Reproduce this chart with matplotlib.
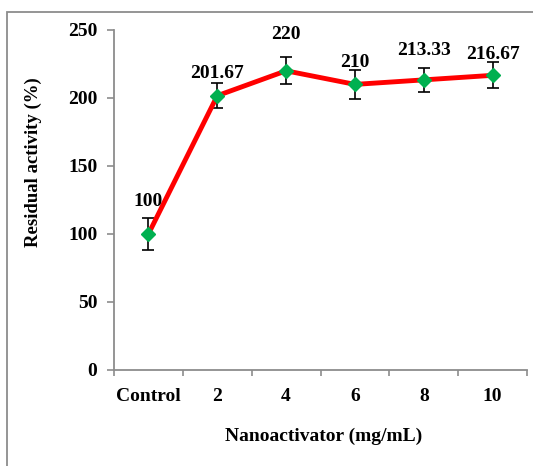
import numpy as np
import matplotlib.pyplot as plt
from matplotlib.patches import Rectangle

categories = ['Control', '2', '4', '6', '8', '10']
activity = [100, 201.67, 220, 210, 213.33, 216.67]
errors = [12, 9, 10, 10.5, 9, 9.5]

# vertical gap (points) between each marker and its value label
label_gap = [17, 10, 20, 10, 15, 9]

plt.rcParams['font.family'] = 'Liberation Serif'
plt.rcParams['font.weight'] = 'bold'

fig = plt.figure(figsize=(5.33, 4.66), dpi=100)
ax = fig.add_axes([114/533, 96/466, 413/533, 340/466])

# outer frame (only top and left edges visible)
fig.patches.append(Rectangle((7/533, -0.1), 1.2, 1.1 - 12/466, transform=fig.transFigure,
                             fill=False, edgecolor='#8c8c8c', linewidth=1.3))

x = np.arange(len(categories))
ax.errorbar(x, activity, yerr=errors, fmt='none', ecolor='black', elinewidth=1.2,
            capsize=4.3, capthick=1.2, zorder=2)
ax.plot(x, activity, color='#ff0000', linewidth=3.5, zorder=3)
ax.plot(x, activity, linestyle='none', marker='D', markersize=7.5, color='#00b050', zorder=4)

for xi, v, g in zip(x, activity, label_gap):
    ax.annotate(f'{v:g}', (xi, v), xytext=(0, g), textcoords='offset points',
                ha='center', va='bottom', fontsize=14, fontweight='bold')

ax.set_xlim(-0.5, len(categories) - 0.5)
ax.set_ylim(0, 250)
ax.set_yticks(np.arange(0, 251, 50))
ax.set_xticks(x)
ax.set_xticklabels(categories, fontsize=14, fontweight='bold')
ax.set_xticks(np.arange(-0.5, len(categories)), minor=True)
ax.tick_params(axis='x', which='major', length=0, pad=13)
ax.tick_params(axis='x', which='minor', length=4, color='#8c8c8c', width=1.2)
ax.tick_params(axis='y', length=5, color='#8c8c8c', width=1.2, labelsize=14, pad=7)
for lbl in ax.get_yticklabels():
    lbl.set_fontweight('bold')

for s in ['top', 'right']:
    ax.spines[s].set_visible(False)
for s in ['left', 'bottom']:
    ax.spines[s].set_color('#8c8c8c')
    ax.spines[s].set_linewidth(1.3)

ax.set_ylabel('Residual activity (%)', fontsize=13.5, fontweight='bold')
ax.yaxis.set_label_coords(-0.174, 0.61)
ax.set_xlabel('Nanoactivator (mg/mL)', fontsize=14, fontweight='bold')
ax.xaxis.set_label_coords(0.508, -0.171)

fig.savefig('out.png', dpi=100)
